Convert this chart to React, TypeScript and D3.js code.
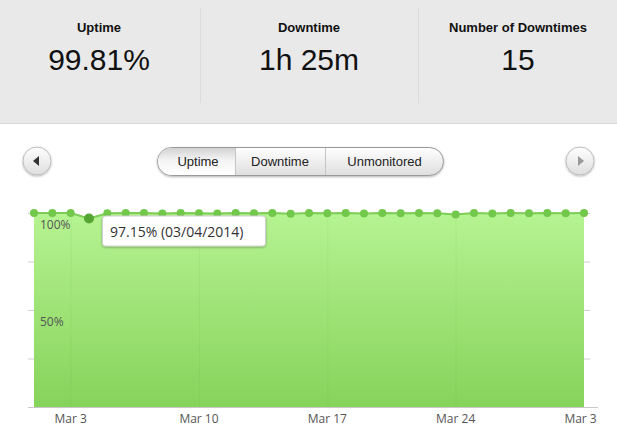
import React, { useEffect, useRef } from 'react';
import * as d3 from 'd3';

const days = d3.range(1, 32).map(d => new Date(2014, 2, d));
const uptime = [
  100, 100, 100, 97.15, 99.86, 100, 100, 99.79, 100, 99.86, 99.72, 100, 99.93, 100, 99.65, 100,
  99.86, 100, 99.79, 100, 99.93, 100, 99.86, 99.17, 100, 99.79, 100, 99.93, 100, 99.86, 100,
];
const xTicks = [3, 10, 17, 24, 31].map(d => new Date(2014, 2, d));
const yTicks = [0, 25, 50, 75, 100];
const yLabels = [100, 50];
const stats = [
  { title: 'Uptime', value: '99.81%' },
  { title: 'Downtime', value: '1h 25m' },
  { title: 'Number of Downtimes', value: '15' },
];
const tabs = ['Uptime', 'Downtime', 'Unmonitored'];
const hoverIndex = 3;

const W = 617;
const H = 427;

const App: React.FC = () => {
  const ref = useRef<SVGSVGElement | null>(null);

  useEffect(() => {
    document.body.style.margin = '0';
    if (!ref.current) return;
    const svg = d3.select(ref.current);
    svg.selectAll('*').remove();

    const defs = svg.append('defs');
    const areaGrad = defs.append('linearGradient').attr('id', 'areaGrad').attr('x1', 0).attr('x2', 0).attr('y1', 0).attr('y2', 1);
    areaGrad.append('stop').attr('offset', '0%').attr('stop-color', '#b6f392');
    areaGrad.append('stop').attr('offset', '100%').attr('stop-color', '#86d35b');
    const btnGrad = defs.append('linearGradient').attr('id', 'btnGrad').attr('x1', 0).attr('x2', 0).attr('y1', 0).attr('y2', 1);
    btnGrad.append('stop').attr('offset', '0%').attr('stop-color', '#ffffff');
    btnGrad.append('stop').attr('offset', '100%').attr('stop-color', '#dedede');
    const activeGrad = defs.append('linearGradient').attr('id', 'activeGrad').attr('x1', 0).attr('x2', 0).attr('y1', 0).attr('y2', 1);
    activeGrad.append('stop').attr('offset', '0%').attr('stop-color', '#d2d2d2');
    activeGrad.append('stop').attr('offset', '45%').attr('stop-color', '#f4f4f4');
    activeGrad.append('stop').attr('offset', '100%').attr('stop-color', '#ffffff');
    const shadow = defs.append('filter').attr('id', 'shadow').attr('x', '-20%').attr('y', '-20%').attr('width', '140%').attr('height', '160%');
    shadow.append('feDropShadow').attr('dx', 0).attr('dy', 1).attr('stdDeviation', 1).attr('flood-color', '#000').attr('flood-opacity', 0.3);
    defs.append('clipPath').attr('id', 'labelClip').append('rect').attr('x', 0).attr('y', 0).attr('width', 597).attr('height', H);

    // header stats
    svg.append('rect').attr('x', 0).attr('y', 0).attr('width', W).attr('height', 124).attr('fill', '#e9e9e9');
    svg.append('line').attr('x1', 0).attr('x2', W).attr('y1', 123.5).attr('y2', 123.5).attr('stroke', '#d6d6d6');
    const colCenters = [99, 309, 518];
    [200.5, 418.5].forEach(x =>
      svg.append('line').attr('x1', x).attr('x2', x).attr('y1', 8).attr('y2', 103).attr('stroke', '#dcdcdc')
    );
    stats.forEach((s, i) => {
      svg.append('text').attr('x', colCenters[i]).attr('y', 32).attr('text-anchor', 'middle')
        .attr('font-family', 'Liberation Sans, Arial, sans-serif').attr('font-weight', 'bold').attr('font-size', 13)
        .attr('fill', '#111').text(s.title);
      svg.append('text').attr('x', colCenters[i]).attr('y', 70).attr('text-anchor', 'middle')
        .attr('font-family', 'Liberation Sans, Arial, sans-serif').attr('font-size', 30)
        .attr('fill', '#111').text(s.value);
    });

    // nav buttons
    [{ cx: 37, dir: -1, c: '#333' }, { cx: 580, dir: 1, c: '#999' }].forEach(b => {
      svg.append('circle').attr('cx', b.cx).attr('cy', 161).attr('r', 14).attr('fill', 'url(#btnGrad)')
        .attr('stroke', '#bdbdbd').attr('filter', 'url(#shadow)');
      const tri = b.dir < 0
        ? `M${b.cx - 4},161 L${b.cx + 2},156 L${b.cx + 2},166 Z`
        : `M${b.cx + 4},161 L${b.cx - 2},156 L${b.cx - 2},166 Z`;
      svg.append('path').attr('d', tri).attr('fill', b.c);
    });

    // segmented control
    const segX = [157, 235, 325, 444];
    svg.append('rect').attr('x', 157.5).attr('y', 147.5).attr('width', 286).attr('height', 28).attr('rx', 14)
      .attr('fill', 'url(#btnGrad)').attr('stroke', '#9a9a9a').attr('filter', 'url(#shadow)');
    svg.append('clipPath').attr('id', 'segClip').append('rect').attr('x', 158).attr('y', 148).attr('width', 285).attr('height', 27).attr('rx', 13.5);
    svg.append('rect').attr('x', 158).attr('y', 148).attr('width', segX[1] - 158).attr('height', 27)
      .attr('fill', 'url(#activeGrad)').attr('clip-path', 'url(#segClip)');
    [segX[1], segX[2]].forEach(x =>
      svg.append('line').attr('x1', x + 0.5).attr('x2', x + 0.5).attr('y1', 148).attr('y2', 175).attr('stroke', '#c4c4c4')
    );
    tabs.forEach((t, i) => {
      svg.append('text').attr('x', (segX[i] + segX[i + 1]) / 2 + (i === 0 ? 2 : 0)).attr('y', 166).attr('text-anchor', 'middle')
        .attr('font-family', 'Liberation Sans, Arial, sans-serif').attr('font-size', 13).attr('fill', '#222').text(t);
    });

    // chart
    const x = d3.scaleTime().domain([days[0], days[days.length - 1]]).range([34, 584]);
    const y = d3.scaleLinear().domain([0, 100]).range([407, 213]);
    const data = days.map((d, i) => ({ date: d, value: uptime[i] }));

    const area = d3.area<{ date: Date; value: number }>().x(d => x(d.date)).y0(y(0)).y1(d => y(d.value));
    const line = d3.line<{ date: Date; value: number }>().x(d => x(d.date)).y(d => y(d.value));

    svg.append('path').datum(data).attr('d', area as any).attr('fill', 'url(#areaGrad)');

    xTicks.slice(0, 4).forEach(t =>
      svg.append('line').attr('x1', x(t) + 0.5).attr('x2', x(t) + 0.5).attr('y1', y(100)).attr('y2', y(0))
        .attr('stroke', '#4a9a2a').attr('stroke-opacity', 0.07)
    );
    yTicks.forEach(v => {
      svg.append('line').attr('x1', 28).attr('x2', 34).attr('y1', y(v) + 0.5).attr('y2', y(v) + 0.5).attr('stroke', '#cfcfcf');
      svg.append('line').attr('x1', 584).attr('x2', 590).attr('y1', y(v) + 0.5).attr('y2', y(v) + 0.5).attr('stroke', '#cfcfcf');
    });
    svg.append('line').attr('x1', 28).attr('x2', 598).attr('y1', y(0) + 0.5).attr('y2', y(0) + 0.5).attr('stroke', '#c8c8c8');

    yLabels.forEach(v =>
      svg.append('text').attr('x', 40).attr('y', y(v) + 16).attr('font-family', 'Open Sans, sans-serif')
        .attr('font-size', 12).attr('fill', '#555').text(`${v}%`)
    );

    svg.append('path').datum(data).attr('d', line as any).attr('fill', 'none').attr('stroke', '#7ccd55').attr('stroke-width', 2);
    svg.append('g').selectAll('circle').data(data).join('circle')
      .attr('cx', d => x(d.date)).attr('cy', d => y(d.value))
      .attr('r', (_d, i) => (i === hoverIndex ? 5 : 4))
      .attr('fill', (_d, i) => (i === hoverIndex ? '#54a531' : '#72c84b'));

    const fmt = d3.timeFormat('%b %-d');
    svg.append('g').attr('clip-path', 'url(#labelClip)').selectAll('text').data(xTicks).join('text')
      .attr('x', d => x(d)).attr('y', 423).attr('text-anchor', 'middle')
      .attr('font-family', 'Open Sans, sans-serif').attr('font-size', 12).attr('fill', '#555')
      .text(d => fmt(d));

    // tooltip
    const hp = data[hoverIndex];
    const tx = x(hp.date) + 13;
    const ty = y(hp.value) - 3;
    svg.append('rect').attr('x', tx + 0.5).attr('y', ty + 0.5).attr('width', 163).attr('height', 30).attr('rx', 3)
      .attr('fill', '#fff').attr('stroke', '#d0d0d0').attr('filter', 'url(#shadow)');
    svg.append('text').attr('x', tx + 8).attr('y', ty + 21).attr('font-family', 'Open Sans, sans-serif')
      .attr('font-size', 14).attr('fill', '#333')
      .text(`${hp.value.toFixed(2)}% (${d3.timeFormat('%m/%d/%Y')(hp.date)})`);
  }, []);

  return <svg ref={ref} width={W} height={H} style={{ display: 'block', background: '#fff' }} />;
};

export default App;
